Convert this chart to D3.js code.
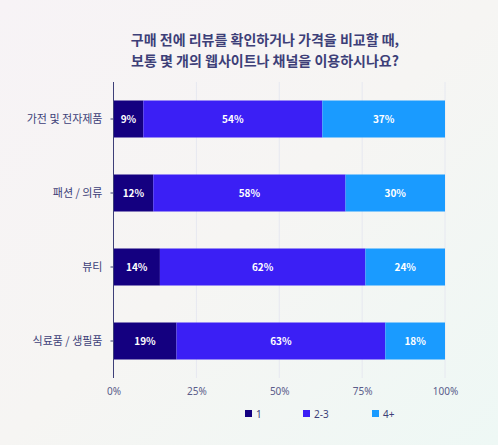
<!DOCTYPE html>
<html><head><meta charset="utf-8">
<script src="https://cdn.jsdelivr.net/npm/d3@7"></script>
<style>
body{margin:0;}
svg{display:block;font-family:"Noto Sans CJK KR","Noto Sans",sans-serif;}
</style></head>
<body>
<script>
// data
var categories = ["가전 및 전자제품", "패션 / 의류", "뷰티", "식료품 / 생필품"];
var series = ["1", "2-3", "4+"];
var v1 = [9, 12, 14, 19];
var v23 = [54, 58, 62, 63];
var v4 = [37, 30, 24, 18];
var ticks = [0, 25, 50, 75, 100];
var colors = ["#140080", "#3b1ff5", "#1a9bff"];

var W = 498, H = 445;
var svg = d3.select("body").append("svg").attr("width", W).attr("height", H);

// background
var defs = svg.append("defs");
var g1 = defs.append("linearGradient").attr("id", "bg").attr("x1", 0).attr("y1", 0).attr("x2", 1).attr("y2", 1);
g1.append("stop").attr("offset", "0%").attr("stop-color", "#f7f3f6");
g1.append("stop").attr("offset", "50%").attr("stop-color", "#f6f5f3");
g1.append("stop").attr("offset", "100%").attr("stop-color", "#eef8f5");
svg.append("rect").attr("width", W).attr("height", H).attr("fill", "url(#bg)");

// title
svg.append("text").attr("x", 265).attr("y", 45).attr("text-anchor", "middle")
  .attr("font-size", 14).attr("font-weight", "bold").attr("fill", "#3d3f78")
  .text("구매 전에 리뷰를 확인하거나 가격을 비교할 때,");
svg.append("text").attr("x", 265).attr("y", 66).attr("text-anchor", "middle")
  .attr("font-size", 14).attr("font-weight", "bold").attr("fill", "#3d3f78")
  .text("보통 몇 개의 웹사이트나 채널을 이용하시나요?");

var x = d3.scaleLinear().domain([0, 100]).range([113.5, 445]);
var y = d3.scaleBand().domain(categories).range([82, 378]).paddingInner(0.5).paddingOuter(0.25);

// grid
svg.append("g").selectAll("line").data(ticks.slice(1)).enter().append("line")
  .attr("x1", d => x(d)).attr("x2", d => x(d)).attr("y1", 82).attr("y2", 378)
  .attr("stroke", "#e6e8f0").attr("stroke-width", 1);

var rows = categories.map((c, i) => ({cat: c, "1": v1[i], "2-3": v23[i], "4+": v4[i]}));
var stacked = d3.stack().keys(series)(rows);

var layer = svg.append("g").selectAll("g").data(stacked).enter().append("g")
  .attr("fill", (d, i) => colors[i]);
layer.selectAll("rect").data(d => d).enter().append("rect")
  .attr("x", d => x(d[0])).attr("width", d => x(d[1]) - x(d[0]))
  .attr("y", d => y(d.data.cat)).attr("height", y.bandwidth());
layer.selectAll("text").data(d => d).enter().append("text")
  .attr("x", d => (x(d[0]) + x(d[1])) / 2).attr("y", d => y(d.data.cat) + y.bandwidth() / 2 + 4)
  .attr("text-anchor", "middle").attr("font-size", 10).attr("font-weight", "bold").attr("fill", "#fff")
  .text(d => (d[1] - d[0]) + "%");

// y axis
var ya = svg.append("g").attr("transform", "translate(113.5,0)")
  .call(d3.axisLeft(y).tickSize(3).tickPadding(8));
ya.select(".domain").attr("stroke", "#3d3f78").attr("d", "M0,82V378");
ya.selectAll(".tick line").attr("stroke", "#3d3f78");
ya.selectAll("text").attr("font-size", 11).attr("fill", "#3d3f78").attr("font-family", "Noto Sans CJK KR");

// x axis labels
svg.append("g").attr("transform", "translate(0,378)")
  .call(d3.axisBottom(x).tickValues(ticks).tickFormat(d => d + "%").tickSize(0).tickPadding(10))
  .call(g => g.select(".domain").remove())
  .selectAll("text").attr("font-size", 10).attr("fill", "#5a5c8a").attr("font-family", "Noto Sans");

// legend
var lx = [245, 303, 372];
var lg = svg.append("g").selectAll("g").data(series).enter().append("g")
  .attr("transform", (d, i) => "translate(" + lx[i] + ",410)");
lg.append("rect").attr("width", 7).attr("height", 7).attr("fill", (d, i) => colors[i]);
lg.append("text").attr("x", 11).attr("y", 7.5).attr("font-size", 10).attr("fill", "#3d3f78")
  .attr("font-family", "Noto Sans").text(d => d);
</script>
</body></html>
